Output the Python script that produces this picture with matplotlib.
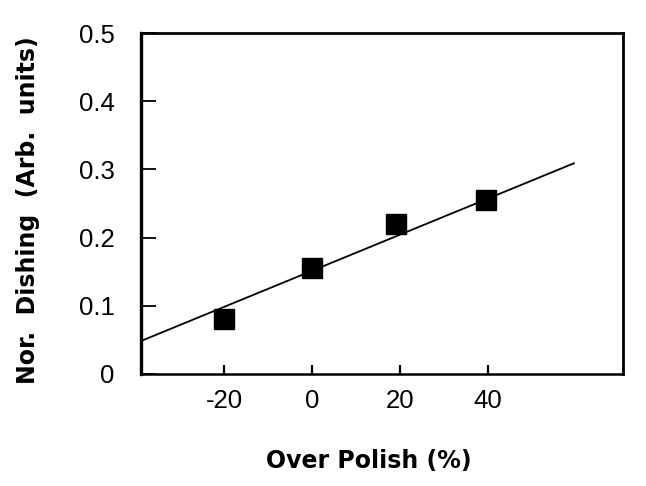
import matplotlib
matplotlib.use("Agg")
import matplotlib.pyplot as plt

# measured points
over_polish = [-20, 0, 19, 39.5]
dishing = [0.080, 0.155, 0.220, 0.255]

# linear fit line endpoints
fit_x = [-39, 59.5]
fit_y = [0.048, 0.309]

xticks = [-20, 0, 20, 40]
xtick_labels = ["-20", "0", "20", "40"]
yticks = [0, 0.1, 0.2, 0.3, 0.4, 0.5]
ytick_labels = ["0", "0.1", "0.2", "0.3", "0.4", "0.5"]

fig = plt.figure(figsize=(6.46, 4.86), dpi=100)
ax = fig.add_axes([0.218, 0.2305, 0.746, 0.7015])

ax.plot(fit_x, fit_y, color="black", lw=1.3, zorder=2)
ax.plot(over_polish, dishing, "s", color="black", ms=14, zorder=3)

ax.set_xlim(-38.9, 70.6)
ax.set_ylim(0, 0.5)

ax.set_xticks(xticks)
ax.set_xticklabels(xtick_labels, family="Liberation Sans", fontsize=18.5)
ax.set_yticks(yticks)
ax.set_yticklabels(ytick_labels, family="Liberation Sans", fontsize=18.5)

ax.tick_params(axis="y", direction="in", length=11, width=1.3, pad=19)
ax.tick_params(axis="x", direction="in", length=6.5, width=1.6, pad=11)

for s in ax.spines.values():
    s.set_linewidth(2)
ax.spines["left"].set_linewidth(2.4)
ax.spines["bottom"].set_linewidth(1.8)

fig.text(369 / 646, 1 - 461 / 486, "Over Polish (%)", ha="center", va="center",
         fontsize=17, fontweight="bold", family="DejaVu Sans")
fig.text(28 / 646, 1 - 210 / 486, "Nor.  Dishing  (Arb.  units)", ha="center", va="center",
         rotation=90, fontsize=17, fontweight="bold", family="DejaVu Sans")

fig.savefig("out.png", dpi=100, facecolor="white")
